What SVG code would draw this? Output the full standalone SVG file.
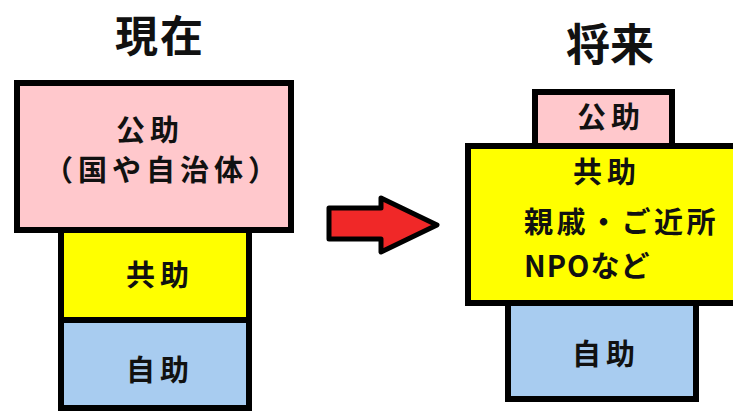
<svg xmlns="http://www.w3.org/2000/svg" width="733" height="412" viewBox="0 0 733 412">
<style>
.box{stroke:#000;stroke-width:6;stroke-linejoin:miter}
.pink{fill:#ffc8cc}
.yellow{fill:#ffff00}
.blue{fill:#a8ccf0}
.t{font-family:"Noto Sans CJK JP","Liberation Sans",sans-serif;fill:#111;font-weight:700}
.title{font-size:44px;text-anchor:middle}
.lbl{font-size:29px;letter-spacing:5px}
.c{text-anchor:middle}
</style>
<rect width="733" height="412" fill="#fff"/>
<g id="title-now"><text class="t title" x="160" y="52" style="font-size:43px;letter-spacing:2px">現在</text></g>
<g id="title-future"><text class="t title" x="610" y="61">将来</text></g>

<g id="now-kojo">
<rect class="box pink" x="17" y="83" width="274" height="147"/>
<text class="t lbl c" x="150" y="141">公助</text>
<text class="t lbl c" x="163" y="181">（国や自治体）</text>
</g>
<g id="now-kyojo">
<rect class="box yellow" x="61" y="230" width="188" height="90"/>
<text class="t lbl c" x="160" y="286">共助</text>
</g>
<g id="now-jijo">
<rect class="box blue" x="61" y="320" width="188" height="88"/>
<text class="t lbl c" x="160" y="381">自助</text>
</g>

<g id="connectors">
<polygon points="329,208 381,208 381,198 437,225 381,252 381,239 329,239" fill="#f02828" stroke="#000" stroke-width="5" stroke-linejoin="round"/>
</g>

<g id="future-kojo">
<rect class="box pink" x="535" y="92" width="137" height="54"/>
<text class="t lbl c" x="611" y="128">公助</text>
</g>
<g id="future-kyojo">
<rect class="box yellow" x="468" y="146" width="300" height="157"/>
<text class="t lbl c" x="607" y="183">共助</text>
<text class="t lbl" x="524" y="233" style="letter-spacing:3.5px">親戚・ご近所</text>
<text class="t lbl" x="524" y="277" style="letter-spacing:1px">NPOなど</text>
</g>
<g id="future-jijo">
<rect class="box blue" x="508" y="303" width="188" height="96"/>
<text class="t lbl c" x="606" y="365">自助</text>
</g>
</svg>
